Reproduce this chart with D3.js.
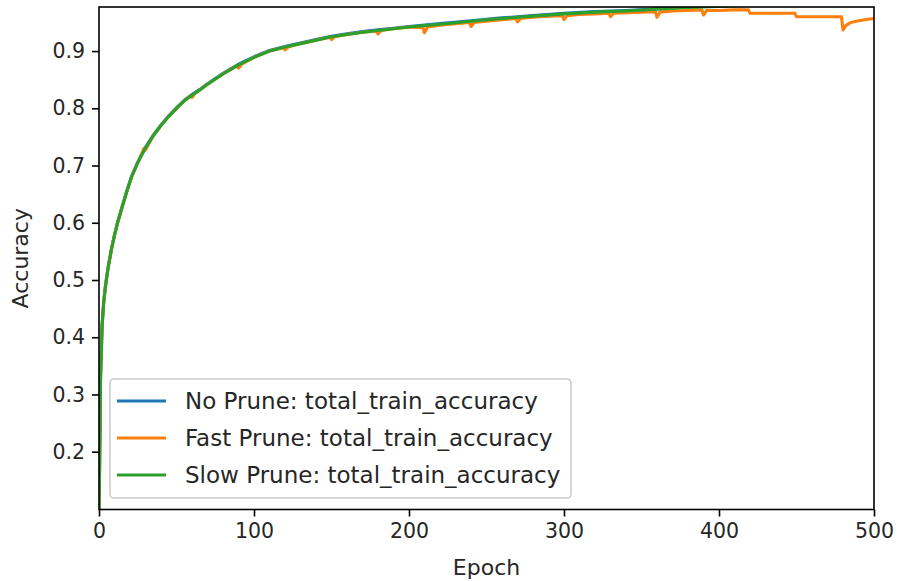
<!DOCTYPE html>
<html>
<head>
<meta charset="utf-8">
<script src="https://cdn.jsdelivr.net/npm/d3@7"></script>
<style>
  body { margin: 0; background: #fff; }
  svg { display: block; font-family: "DejaVu Sans", sans-serif; }
</style>
</head>
<body>
<svg></svg>
<script>
// epochs sampled along the smooth curves (no prune / slow prune)
var baseEpochs = [0, 1, 2, 3, 4, 5, 6, 8, 10, 12, 15, 18, 21, 25, 30, 35, 40, 45, 50, 55, 60, 65, 70, 80, 90,
                  100, 110, 120, 130, 140, 150, 160, 170, 180, 190, 200, 220, 240, 260, 280, 300, 320, 340,
                  360, 380, 400, 420, 440, 460, 480, 500];
var noPruneAcc = [0.08, 0.33, 0.42, 0.46, 0.486, 0.506, 0.524, 0.554, 0.579, 0.601, 0.629, 0.656, 0.681, 0.706,
                  0.732, 0.753, 0.771, 0.787, 0.801, 0.814, 0.824, 0.833, 0.843, 0.861, 0.877,
                  0.890, 0.901, 0.908, 0.914, 0.920, 0.926, 0.930, 0.934, 0.937, 0.940, 0.943, 0.948, 0.953,
                  0.958, 0.962, 0.966, 0.969, 0.971, 0.974, 0.977, 0.979, 0.981, 0.983, 0.985, 0.986, 0.987];
var slowPruneAcc = [0.08, 0.33, 0.42, 0.46, 0.485, 0.505, 0.523, 0.553, 0.578, 0.600, 0.628, 0.655, 0.680, 0.705,
                    0.731, 0.752, 0.770, 0.786, 0.800, 0.813, 0.823, 0.832, 0.842, 0.860, 0.876,
                    0.889, 0.900, 0.907, 0.913, 0.919, 0.925, 0.929, 0.933, 0.936, 0.939, 0.942, 0.947, 0.952,
                    0.957, 0.961, 0.965, 0.968, 0.970, 0.973, 0.976, 0.978, 0.980, 0.982, 0.984, 0.985, 0.986];

// fast prune has a small dip every 30 epochs
var fastEpochs = [0, 1, 2, 3, 4, 5, 6, 8, 10, 12, 15, 18, 21, 25, 29, 30, 32, 35, 40, 45, 50, 55, 59, 60, 62,
                  65, 70, 80, 89, 90, 92, 100, 110, 119, 120, 122, 130, 140, 149, 150, 152, 160, 170, 179,
                  180, 182, 190, 200, 209, 210, 212, 220, 230, 239, 240, 242, 250, 260, 269, 270, 272, 280,
                  290, 299, 300, 302, 310, 320, 329, 330, 332, 340, 350, 359, 360, 362, 370, 380, 389, 390,
                  392, 400, 410, 419, 420, 422, 430, 440, 449, 450, 452, 460, 470, 479, 480, 482, 485, 490,
                  495, 500];
var fastPruneAcc = [0.08, 0.33, 0.42, 0.46, 0.485, 0.505, 0.523, 0.553, 0.578, 0.600, 0.628, 0.655, 0.680, 0.705,
                    0.730, 0.727, 0.737, 0.752, 0.770, 0.786, 0.800, 0.813, 0.822, 0.819, 0.826,
                    0.832, 0.842, 0.860, 0.874, 0.870, 0.877, 0.889, 0.900, 0.906, 0.902, 0.907, 0.913, 0.919,
                    0.924, 0.920, 0.925, 0.929, 0.933, 0.935, 0.930, 0.936, 0.939, 0.942, 0.941, 0.932, 0.942,
                    0.945, 0.948, 0.950, 0.943, 0.950, 0.952, 0.955, 0.957, 0.951, 0.957, 0.959, 0.961, 0.962,
                    0.955, 0.962, 0.964, 0.965, 0.966, 0.960, 0.966, 0.967, 0.968, 0.969, 0.959, 0.968, 0.970,
                    0.971, 0.972, 0.963, 0.971, 0.971, 0.972, 0.972, 0.966, 0.966, 0.966, 0.966, 0.966, 0.960,
                    0.960, 0.960, 0.960, 0.960, 0.937, 0.945, 0.950, 0.953, 0.955, 0.957];

var seriesNames = ["No Prune: total_train_accuracy", "Fast Prune: total_train_accuracy", "Slow Prune: total_train_accuracy"];
var seriesColors = ["#1f77b4", "#ff7f0e", "#2ca02c"];
var xTicks = [0, 100, 200, 300, 400, 500];
var yTicks = [0.2, 0.3, 0.4, 0.5, 0.6, 0.7, 0.8, 0.9];

var svgWidth = 898;
var svgHeight = 581;
var plotLeft = 99, plotRight = 874, plotTop = 7, plotBottom = 509.5;

var svg = d3.select("svg")
   .attr("width", svgWidth)
   .attr("height", svgHeight);

var x = d3.scaleLinear().domain([0, 500]).range([plotLeft, plotRight]);
var y = d3.scaleLinear().domain([0.099, 0.977]).range([plotBottom, plotTop]);

svg.append("clipPath").attr("id", "plot-clip")
   .append("rect")
   .attr("x", plotLeft).attr("y", plotTop)
   .attr("width", plotRight - plotLeft).attr("height", plotBottom - plotTop);

var series = [
  { epochs: baseEpochs, acc: noPruneAcc },
  { epochs: fastEpochs, acc: fastPruneAcc },
  { epochs: baseEpochs, acc: slowPruneAcc }
];

var line = d3.line()
   .x(function(d) { return x(d[0]); })
   .y(function(d) { return y(d[1]); });

svg.append("g")
   .attr("clip-path", "url(#plot-clip)")
   .selectAll("path")
   .data(series)
   .enter()
   .append("path")
   .attr("d", function(s) { return line(d3.zip(s.epochs, s.acc)); })
   .attr("fill", "none")
   .attr("stroke", function(s, i) { return seriesColors[i]; })
   .attr("stroke-width", 3.1)
   .attr("stroke-linejoin", "round")
   .attr("stroke-linecap", "square");

// axes
var xAxis = svg.append("g")
   .attr("transform", "translate(0," + plotBottom + ")")
   .call(d3.axisBottom(x).tickValues(xTicks).tickFormat(d3.format("d")).tickSize(7).tickPadding(7).tickSizeOuter(0));
var yAxis = svg.append("g")
   .attr("transform", "translate(" + plotLeft + ",0)")
   .call(d3.axisLeft(y).tickValues(yTicks).tickFormat(d3.format(".1f")).tickSize(7).tickPadding(7).tickSizeOuter(0));

[xAxis, yAxis].forEach(function(g) {
  g.select(".domain").remove();
  g.selectAll(".tick line").attr("stroke", "#000").attr("stroke-width", 1.6);
  g.selectAll(".tick text").attr("fill", "#262626").style("font-size", "20.5px").style("font-family", "DejaVu Sans");
});

// frame
svg.append("rect")
   .attr("x", plotLeft).attr("y", plotTop)
   .attr("width", plotRight - plotLeft).attr("height", plotBottom - plotTop)
   .attr("fill", "none")
   .attr("stroke", "#000")
   .attr("stroke-width", 1.6);

svg.append("text")
   .attr("x", (plotLeft + plotRight) / 2)
   .attr("y", 575)
   .attr("text-anchor", "middle")
   .attr("fill", "#262626")
   .style("font-size", "22px")
   .text("Epoch");

svg.append("text")
   .attr("transform", "translate(28," + ((plotTop + plotBottom) / 2) + ") rotate(-90)")
   .attr("text-anchor", "middle")
   .attr("fill", "#262626")
   .style("font-size", "22px")
   .text("Accuracy");

// legend
var legend = svg.append("g");
legend.append("rect")
   .attr("x", 110).attr("y", 379)
   .attr("width", 461).attr("height", 119)
   .attr("rx", 4)
   .attr("fill", "#fff").attr("fill-opacity", 0.8)
   .attr("stroke", "#ccc").attr("stroke-width", 1.6);

var items = legend.selectAll("g.item")
   .data(seriesNames)
   .enter()
   .append("g")
   .attr("class", "item")
   .attr("transform", function(d, i) { return "translate(0," + (401 + i * 37) + ")"; });

items.append("line")
   .attr("x1", 117).attr("x2", 166)
   .attr("stroke", function(d, i) { return seriesColors[i]; })
   .attr("stroke-width", 3.1);

items.append("text")
   .attr("x", 185)
   .attr("dy", "0.35em")
   .attr("fill", "#262626")
   .style("font-size", "23px")
   .text(function(d) { return d; });
</script>
</body>
</html>
